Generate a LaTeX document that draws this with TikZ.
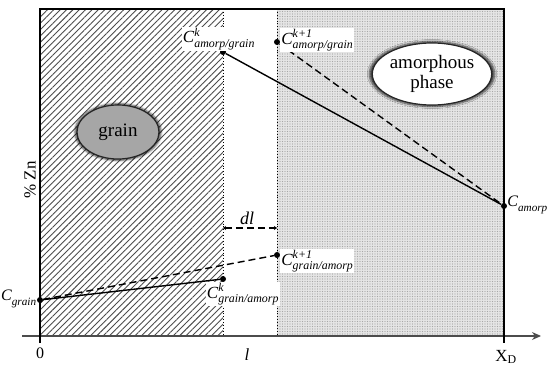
\documentclass[tikz,border=0pt]{standalone}
\usepackage{amsmath}
\usepackage{fontspec}
\setmainfont{Liberation Serif}
\usepackage{tikz}
\usetikzlibrary{arrows.meta,positioning,patterns.meta,shapes.geometric,shadows.blur}

\newcommand{\conc}[2]{$\textit{C}^{\textit{#1}}_{\textit{#2}}$}

\begin{document}
\begin{tikzpicture}[x=1pt, y=-1pt,
        dot/.style={circle, fill=black, inner sep=0pt, minimum size=6pt},
        lab/.style={font=\fontsize{17}{18}\selectfont, fill=white, inner sep=1pt},
        phase/.style={ellipse, draw=black!85, line width=1.2pt, align=center,
          font=\fontsize{19}{20}\selectfont, inner sep=0pt,
          blur shadow={shadow xshift=0pt, shadow yshift=0pt, shadow opacity=70,
            shadow scale=1.05, shadow blur steps=5}},
        conc/.style={line width=1.4pt},
        dashline/.style={dash pattern=on 7pt off 4pt},
        bound/.style={dotted, line width=0.9pt},
        axis/.style={line width=1.3pt}
      ]
        \useasboundingbox (0,0) rectangle (550,369);
        % regions
        \fill[pattern={Lines[angle=45, distance=4.5pt, line width=0.9pt]},
          pattern color=black!70] (40,9) rectangle (223,336);
        \fill[black!10] (277,9) rectangle (504,336);
        \fill[pattern={Dots[distance=2.5pt, radius=0.6pt]},
          pattern color=black!35] (277,9) rectangle (504,336);
        \draw[bound] (223,9) -- (223,336);
        \draw[bound] (277,9) -- (277,336);
        % axes and frame
        \coordinate (xs) at (22,336);
        \coordinate (xe) at (541,336);
        \draw[line width=1.2pt, black!70, -{Stealth[length=9pt, width=8pt]}] (xs) -- (xe);
        \draw[axis] (40,343) -- (40,9) -- (504,9) -- (504,343);
        % phases
        \node[phase, fill=black!35, minimum width=82pt, minimum height=54pt] (grain) at (118,132) {grain};
        \node[phase, fill=white, minimum width=91pt, minimum height=62pt] (amorph) at (432,74) {amorphous\\phase};
        % concentration points
        \node[dot] (cag) at (223,52) {};
        \node[dot] (cag1) at (277,42) {};
        \node[dot] (cam) at (504,206) {};
        \node[dot] (cg) at (40,300) {};
        \node[dot] (cga) at (223,279) {};
        \node[dot] (cga1) at (277,255) {};
        \draw[conc] (cag) -- (cam);
        \draw[conc, dashline] (cag1) -- (cam);
        \draw[conc] (cg) -- (cga);
        \draw[conc, dashline] (cg) -- (cga1);
        % labels
        \node[lab, anchor=south] (lcag) at ([xshift=-4pt, yshift=-2pt]cag.north) {\conc{k}{amorp/grain}};
        \node[lab, anchor=west] (lcag1) at ([yshift=2pt]cag1.east) {\conc{k+1}{amorp/grain}};
        \node[lab, fill=none, inner sep=0pt, font=\fontsize{16}{17}\selectfont, anchor=west] (lcam) at ([yshift=1pt]cam.east) {\conc{}{amorp}};
        \node[lab, fill=none, inner sep=0pt, font=\fontsize{16}{17}\selectfont, anchor=east] (lcg) at ([yshift=1pt]cg.west) {\conc{}{grain}};
        \node[lab, anchor=north] (lcga) at ([xshift=20pt, yshift=0pt]cga.south) {\conc{k}{grain/amorp}};
        \node[lab, anchor=west] (lcga1) at ([yshift=-6pt]cga1.east) {\conc{k+1}{grain/amorp}};
        % dl
        \coordinate (dla) at (223,228);
        \coordinate (dlb) at (277,228);
        \draw[conc, dashline,
          {Stealth[length=3pt, width=4pt]}-{Stealth[length=3pt, width=4pt]}] (dla) -- (dlb);
        \node[font=\itshape\fontsize{18}{19}\selectfont] (dl) at (247,218) {dl};
        % axis labels
        \node[rotate=90, font=\fontsize{17}{18}\selectfont] (zn) at (30,180) {\% Zn};
        \node[font=\fontsize{16}{17}\selectfont] (zero) at (40,353) {0};
        \node[font=\itshape\fontsize{17}{18}\selectfont] (ell) at (247,355) {l};
        \node[font=\fontsize{17}{18}\selectfont] (xd) at (506,357) {X$_{\text{D}}$};
      \end{tikzpicture}
\end{document}
